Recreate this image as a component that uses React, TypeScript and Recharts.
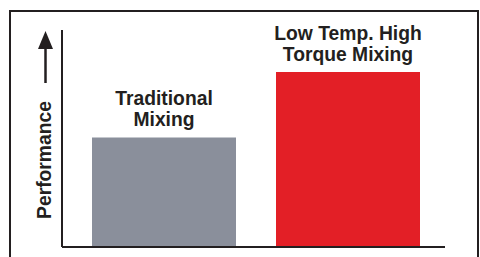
import { Bar, BarChart, Cell, LabelList, XAxis, YAxis } from 'recharts';

const categories = ['Traditional Mixing', 'Low Temp. High Torque Mixing'];
const labelLines = [
  ['Traditional', 'Mixing'],
  ['Low Temp. High', 'Torque Mixing'],
];
const performance = [50.5, 80.6];
const barColors = ['#8a8f9b', '#e31f26'];
const axisTitle = 'Performance';

const data = categories.map((name, i) => ({ name, value: performance[i], idx: i }));

const ink = '#231f20';
const font = '"Liberation Sans", Arial, Helvetica, sans-serif';

const BarTitle = (props) => {
  const { x, y, width, index } = props;
  const cx = x + width / 2;
  const lines = labelLines[index];
  return (
    <text x={cx} textAnchor="middle" fontFamily={font} fontWeight={700} fontSize={19.3} fill={ink}>
      <tspan x={cx} y={y - 32.5}>{lines[0]}</tspan>
      <tspan x={cx} y={y - 11.5}>{lines[1]}</tspan>
    </text>
  );
};

export default function App() {
  return (
    <div
      style={{
        position: 'absolute',
        left: 0,
        top: 0,
        width: 480,
        height: 257,
        overflow: 'hidden',
        background: '#fff',
      }}
    >
      <div
        style={{
          position: 'absolute',
          left: 9,
          top: 10,
          width: 466,
          height: 270,
          border: `2px solid ${ink}`,
        }}
      />
      <div style={{ position: 'absolute', left: 0, top: 0 }}>
        <BarChart width={480} height={257} data={data} margin={{ top: 30, right: 35, bottom: 9, left: 61 }}>
          <XAxis
            dataKey="name"
            height={1}
            tick={false}
            tickLine={false}
            padding={{ left: 10, right: 5 }}
            axisLine={{ stroke: ink, strokeWidth: 2 }}
          />
          <YAxis
            width={1}
            domain={[0, 100]}
            tick={false}
            tickLine={false}
            axisLine={{ stroke: ink, strokeWidth: 2 }}
          />
          <Bar dataKey="value" barSize={144} isAnimationActive={false}>
            {data.map((d, i) => (
              <Cell key={d.name} fill={barColors[i]} />
            ))}
            <LabelList dataKey="value" content={BarTitle} />
          </Bar>
          <text
            x={51}
            y={160}
            transform="rotate(-90 51 160)"
            textAnchor="middle"
            fontFamily={font}
            fontWeight={700}
            fontSize={19.3}
            fill={ink}
          >
            {axisTitle}
          </text>
          <line x1={45.5} y1={83} x2={45.5} y2={46} stroke={ink} strokeWidth={2.5} />
          <polygon points="38,49 53,49 45.5,31" fill={ink} />
        </BarChart>
      </div>
    </div>
  );
}
